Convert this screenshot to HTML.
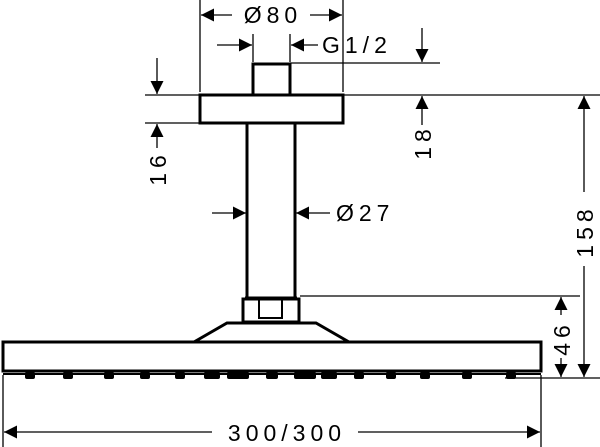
<!DOCTYPE html>
<html><head><style>html,body{margin:0;padding:0;background:#fff;width:600px;height:447px;overflow:hidden}</style></head>
<body>
<svg width="600" height="447" viewBox="0 0 600 447" xmlns="http://www.w3.org/2000/svg" font-family="Liberation Sans, sans-serif">
<defs>
<marker id="a" viewBox="0 0 10 10" refX="10" refY="5" markerWidth="17" markerHeight="13" markerUnits="userSpaceOnUse" orient="auto"><path d="M0,0L10,5L0,10z" fill="#000"/></marker>
</defs>
<g stroke="#000" fill="none">
<g stroke-width="3">
<rect x="253" y="64" width="37" height="31"/>
<rect x="200" y="95" width="143" height="28"/>
<line x1="247" y1="123" x2="247" y2="298"/>
<line x1="295" y1="123" x2="295" y2="298"/>
<line x1="245" y1="298" x2="297" y2="298"/>
<rect x="243" y="299" width="56" height="23"/>
<polyline points="194,342 227,323 316,323 349,342"/>
<rect x="3" y="342" width="538" height="29"/>
</g>
<rect x="259" y="299" width="23" height="19" stroke-width="2"/>
<line x1="3" y1="374" x2="541" y2="374" stroke-width="2"/>
<g stroke-width="1.3">
<line x1="200" y1="0" x2="200" y2="92"/>
<line x1="343" y1="0" x2="343" y2="92"/>
<line x1="253" y1="34" x2="253" y2="62"/>
<line x1="290" y1="34" x2="290" y2="62"/>
<line x1="290" y1="63" x2="440" y2="63"/>
<line x1="145" y1="95" x2="600" y2="95"/>
<line x1="145" y1="123" x2="199" y2="123"/>
<line x1="300" y1="296" x2="580" y2="296"/>
<line x1="505" y1="378" x2="600" y2="378"/>
<line x1="3" y1="375" x2="3" y2="447"/>
<line x1="541" y1="375" x2="541" y2="447"/>
<line x1="232" y1="15" x2="201" y2="15" marker-end="url(#a)"/>
<line x1="310" y1="15" x2="342" y2="15" marker-end="url(#a)"/>
<line x1="217" y1="45" x2="252" y2="45" marker-end="url(#a)"/>
<line x1="318" y1="45" x2="291" y2="45" marker-end="url(#a)"/>
<line x1="422" y1="28" x2="422" y2="62" marker-end="url(#a)"/>
<line x1="422" y1="125" x2="422" y2="96" marker-end="url(#a)"/>
<line x1="157" y1="58" x2="157" y2="94" marker-end="url(#a)"/>
<line x1="157" y1="148" x2="157" y2="124" marker-end="url(#a)"/>
<line x1="212" y1="213" x2="246" y2="213" marker-end="url(#a)"/>
<line x1="330" y1="213" x2="296" y2="213" marker-end="url(#a)"/>
<line x1="584" y1="192" x2="584" y2="96" marker-end="url(#a)"/>
<line x1="584" y1="266" x2="584" y2="377" marker-end="url(#a)"/>
<line x1="561" y1="315" x2="561" y2="297" marker-end="url(#a)"/>
<line x1="561" y1="358" x2="561" y2="377" marker-end="url(#a)"/>
<line x1="212" y1="432" x2="4" y2="432" marker-end="url(#a)"/>
<line x1="358" y1="432" x2="540" y2="432" marker-end="url(#a)"/>
</g>
</g>
<g fill="#000">
<rect x="25" y="372" width="10" height="7" rx="2"/><rect x="63" y="372" width="10" height="7" rx="2"/><rect x="104" y="372" width="10" height="7" rx="2"/><rect x="140" y="372" width="10" height="7" rx="2"/><rect x="175" y="372" width="10" height="7" rx="2"/><rect x="204" y="372" width="16" height="7" rx="2"/><rect x="227" y="372" width="22" height="7" rx="2"/><rect x="266" y="372" width="12" height="7" rx="2"/><rect x="294" y="372" width="22" height="7" rx="2"/><rect x="321" y="372" width="16" height="7" rx="2"/><rect x="354" y="372" width="10" height="7" rx="2"/><rect x="386" y="372" width="10" height="7" rx="2"/><rect x="420" y="372" width="10" height="7" rx="2"/><rect x="462" y="372" width="10" height="7" rx="2"/><rect x="506" y="372" width="10" height="7" rx="2"/>
</g>
<g font-size="23" fill="#000" letter-spacing="5">
<text x="273" y="23" text-anchor="middle">Ø80</text>
<text x="322" y="53">G1/2</text>
<text x="336" y="221">Ø27</text>
<text x="287" y="441" text-anchor="middle">300/300</text>
<text transform="translate(431,142) rotate(-90)" text-anchor="middle">18</text>
<text transform="translate(166,168) rotate(-90)" text-anchor="middle">16</text>
<text transform="translate(593,231) rotate(-90)" text-anchor="middle">158</text>
<text transform="translate(570,338) rotate(-90)" text-anchor="middle">46</text>
</g>
</svg>
</body></html>
